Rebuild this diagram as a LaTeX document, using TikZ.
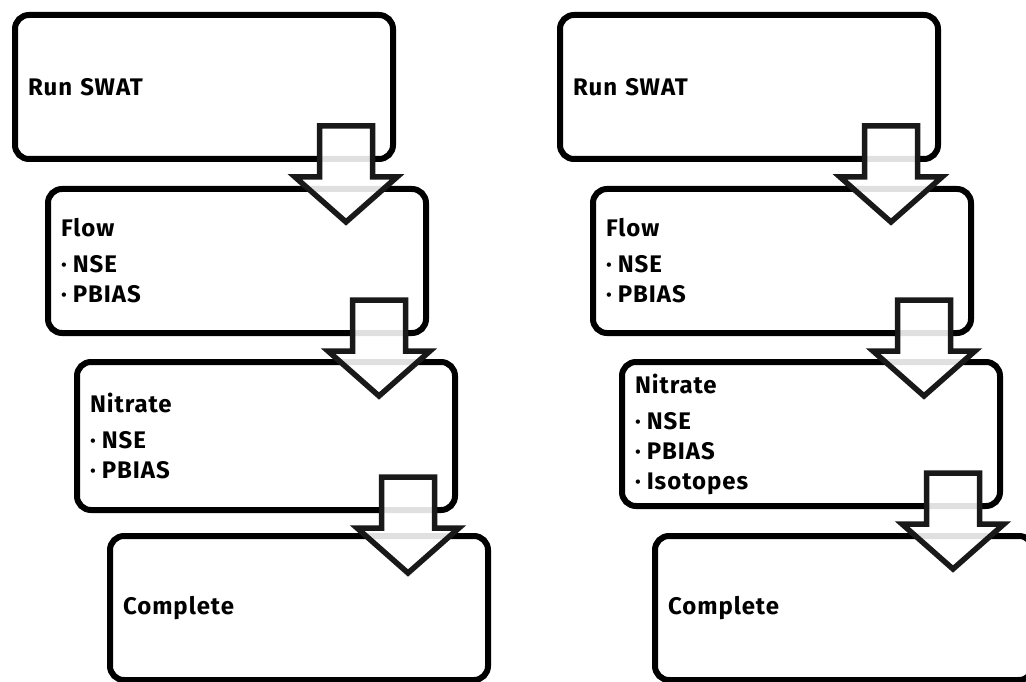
\documentclass[tikz,border=0pt]{standalone}
\usepackage{fontspec}
\setmainfont{Fira Sans}[LetterSpace=4]
\usetikzlibrary{calc}

\tikzset{
  stepbox/.style={draw=black, line width=6pt, rounded corners=14pt, fill=white,
    minimum width=378pt, minimum height=144pt, text width=352pt,
    inner xsep=13pt, inner ysep=0pt, outer sep=0pt, align=left, anchor=north west,
    font=\bfseries\fontsize{24}{30}\selectfont},
  blockarrow/.style={draw=black!90, line width=5.5pt, fill=white, fill opacity=0.88,
    draw opacity=1, miter limit=20},
  pics/downarrow/.style={code={
    \draw[blockarrow] (-26.5,0) -- (26.5,0) -- (26.5,51) -- (51,51) -- (0,96)
      -- (-51,51) -- (-26.5,51) -- cycle;
  }}
}
\newcommand{\bul}{\textperiodcentered\kern6pt}

\begin{document}
\begin{tikzpicture}[x=1pt, y=-1pt]
  \useasboundingbox (0,0) rectangle (1026,682);
  \clip (0,0) rectangle (1026,682);

  % left workflow
  \node[stepbox] (l1) at (15,15)  {Run SWAT};
  \node[stepbox] (l2) at (48,189) {Flow\\[6pt]\bul NSE\\\bul PBIAS};
  \node[stepbox, minimum height=148pt] (l3) at (77,362) {Nitrate\\[6pt]\bul NSE\\\bul PBIAS};
  \node[stepbox] (l4) at (110,536) {Complete};

  % right workflow
  \node[stepbox] (r1) at (560,15)  {Run SWAT};
  \node[stepbox] (r2) at (593,189) {Flow\\[6pt]\bul NSE\\\bul PBIAS};
  \node[stepbox] (r3) at (622,362) {Nitrate\\[6pt]\bul NSE\\\bul PBIAS\\\bul Isotopes};
  \node[stepbox] (r4) at (655,536) {Complete};

  % block arrows between consecutive steps
  \foreach \s in {l,r}{
    \foreach \i/\j in {1/2,2/3,3/4}{
      \coordinate (\s a\i) at ($(\s\i.south east)+(-47,-33)$);
      \pic at (\s a\i) {downarrow};
    }
  }
\end{tikzpicture}
\end{document}
